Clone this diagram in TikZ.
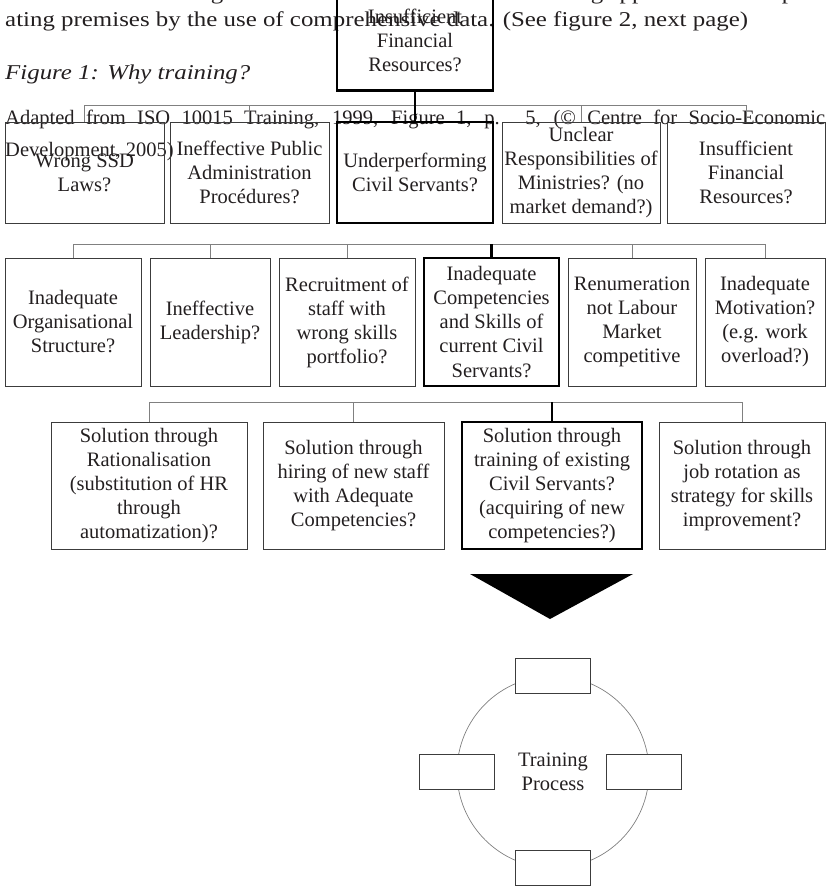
\documentclass[tikz,border=0pt]{standalone}
\usepackage{fontspec}
\setmainfont{Liberation Serif}
\newfontfamily\bodyfont[FakeStretch=1.18]{Liberation Serif}
\usetikzlibrary{calc}
\definecolor{ink1}	{RGB}{35,31,32}
\definecolor{frame1}	{RGB}{60,60,60}
\definecolor{wire1}	{RGB}{128,128,128}
\newcommand{\boxfont}{\fontsize{17.5}{20.5}\selectfont}
\newcommand{\prosefont}{\bodyfont\fontsize{18}{21}\selectfont}
\tikzset{x=0.3mm, y=-0.3mm}
\tikzstyle{cause}=	[draw=frame1, line width=0.7pt, inner sep=0pt, align=center, text=ink1, font=\boxfont]
\tikzstyle{keycause}=	[cause, draw=black, line width=2.2pt]
\tikzstyle{row1}=	[minimum height=30.3mm]
\tikzstyle{row2}=	[minimum height=38.4mm]
\tikzstyle{row3}=	[minimum height=38.1mm]
\tikzstyle{wire}=	[draw=wire1, line width=0.8pt]
\tikzstyle{keywire}=	[draw=black, line width=2.2pt]
\tikzstyle{slot}=	[draw=frame1, fill=white, line width=0.7pt, minimum width=22.5mm, minimum height=10.5mm]
\tikzstyle{prose}=	[inner sep=0pt, anchor=base west, text=ink1, font=\prosefont]
\tikzstyle{source}=	[inner sep=0pt, anchor=base west, text=ink1, font=\boxfont]

\begin{document}
\begin{tikzpicture}
	\useasboundingbox (0,0) rectangle (830,888);

	%%% running text above the figure
	\node[prose, anchor=base] (tail1) at (217,0) {g};
	\node[prose, anchor=base] (tail2) at (597,0) {g};
	\node[prose, anchor=base] (tail3) at (632,0) {pp};
	\node[prose, anchor=base] (tail4) at (788,0) {p};
	\node[prose] (line1) at (5,27) {ating premises by the use of comprehensive data. (See figure 2, next page)};
	\node[prose] (title) at (5,80) {\itshape Figure 1: Why training?};

	%%% root
	\node[keycause, row1, minimum width=46.8mm] (root) at (415,40) {Insufficient\\Financial\\Resources?};

	%%% source note
	\node[source] (src1) at (5,125) {\makebox[246mm][s]{Adapted from ISO 10015 Training, 1999, Figure 1, p. 5, (© Centre for Socio-Economic}};
	\node[source] (src2) at (5,157) {Development, 2005)};

	%%% level 1
	% nodes
	\node[cause, row1, minimum width=47.7mm] 	(l1a) at (84.5,172.5) 	{Wrong SSD\\Laws?};
	\node[cause, row1, minimum width=47.7mm] 	(l1b) at (249.5,172.5) 	{Ineffective Public\\Administration\\Procédures?};
	\node[keycause, row1, minimum width=46.8mm] 	(l1c) at (415,172.5) 	{Underperforming\\Civil Servants?};
	\node[cause, row1, minimum width=47.4mm] 	(l1d) at (581,172.5) 	{Unclear\\Responsibilities of\\Ministries? (no\\market demand?)};
	\node[cause, row1, minimum width=47.4mm] 	(l1e) at (746,172.5) 	{Insufficient\\Financial\\Resources?};

	% bus
	\coordinate (bus1) at (0,105);
	\draw[wire] (l1a.north |- bus1) -- (l1e.north |- bus1);
	\draw[wire] (l1a.north) -- (l1a.north |- bus1);
	\draw[wire] (l1b.north) -- (l1b.north |- bus1);
	\draw[wire] (l1d.north) -- (l1d.north |- bus1);
	\draw[wire] (l1e.north) -- (l1e.north |- bus1);
	\draw[keywire] (root.south) -- (l1c.north);

	%%% level 2
	% nodes
	\node[cause, row2, minimum width=40.8mm] 	(l2a) at (73,322) 	{Inadequate\\Organisational\\Structure?};
	\node[cause, row2, minimum width=36mm] 	(l2b) at (210,322) 	{Ineffective\\Leadership?};
	\node[cause, row2, minimum width=40.8mm] 	(l2c) at (347,322) 	{Recruitment of\\staff with\\wrong skills\\portfolio?};
	\node[keycause, row2, minimum width=40.5mm] 	(l2d) at (491.5,322) 	{Inadequate\\Competencies\\and Skills of\\current Civil\\Servants?};
	\node[cause, row2, minimum width=38.4mm] 	(l2e) at (632,322) 	{Renumeration\\not Labour\\Market\\competitive};
	\node[cause, row2, minimum width=36mm] 	(l2f) at (765,322) 	{Inadequate\\Motivation?\\(e.g. work\\overload?)};

	% bus
	\coordinate (bus2) at (0,244);
	\draw[wire] (l2a.north |- bus2) -- (l2f.north |- bus2);
	\draw[wire] (l2a.north) -- (l2a.north |- bus2);
	\draw[wire] (l2b.north) -- (l2b.north |- bus2);
	\draw[wire] (l2c.north) -- (l2c.north |- bus2);
	\draw[wire] (l2e.north) -- (l2e.north |- bus2);
	\draw[wire] (l2f.north) -- (l2f.north |- bus2);
	\draw[keywire] (l2d.north) -- (l2d.north |- bus2);

	%%% level 3
	% nodes
	\node[cause, row3, minimum width=58.8mm] 	(l3a) at (149,485.5) 	{Solution through\\Rationalisation\\(substitution of HR\\through\\automatization)?};
	\node[cause, row3, minimum width=54.3mm] 	(l3b) at (353.5,485.5) 	{Solution through\\hiring of new staff\\with Adequate\\Competencies?};
	\node[keycause, row3, minimum width=54mm] 	(l3c) at (552,485.5) 	{Solution through\\training of existing\\Civil Servants?\\(acquiring of new\\competencies?)};
	\node[cause, row3, minimum width=49.8mm] 	(l3d) at (742,485.5) 	{Solution through\\job rotation as\\strategy for skills\\improvement?};

	% bus
	\coordinate (bus3) at (0,402);
	\draw[wire] (l3a.north |- bus3) -- (l3d.north |- bus3);
	\draw[wire] (l3a.north) -- (l3a.north |- bus3);
	\draw[wire] (l3b.north) -- (l3b.north |- bus3);
	\draw[wire] (l3d.north) -- (l3d.north |- bus3);
	\draw[keywire] (l3c.north) -- (l3c.north |- bus3);

	%%% arrow head
	\fill[black] (470,574) -- (633,574) -- (550,619) -- cycle;

	%%% training cycle
	\node[circle, draw=wire1, line width=0.6pt, inner sep=0pt, minimum size=57.6mm, align=center, text=ink1, font=\boxfont] (tproc) at (553,772) {Training\\Process};
	\node[slot] (s1) at (tproc.north) {};
	\node[slot] (s2) at ($(tproc.east)+(-5,0)$) {};
	\node[slot] (s3) at (tproc.south) {};
	\node[slot] (s4) at (tproc.west) {};

\end{tikzpicture}
\end{document}
